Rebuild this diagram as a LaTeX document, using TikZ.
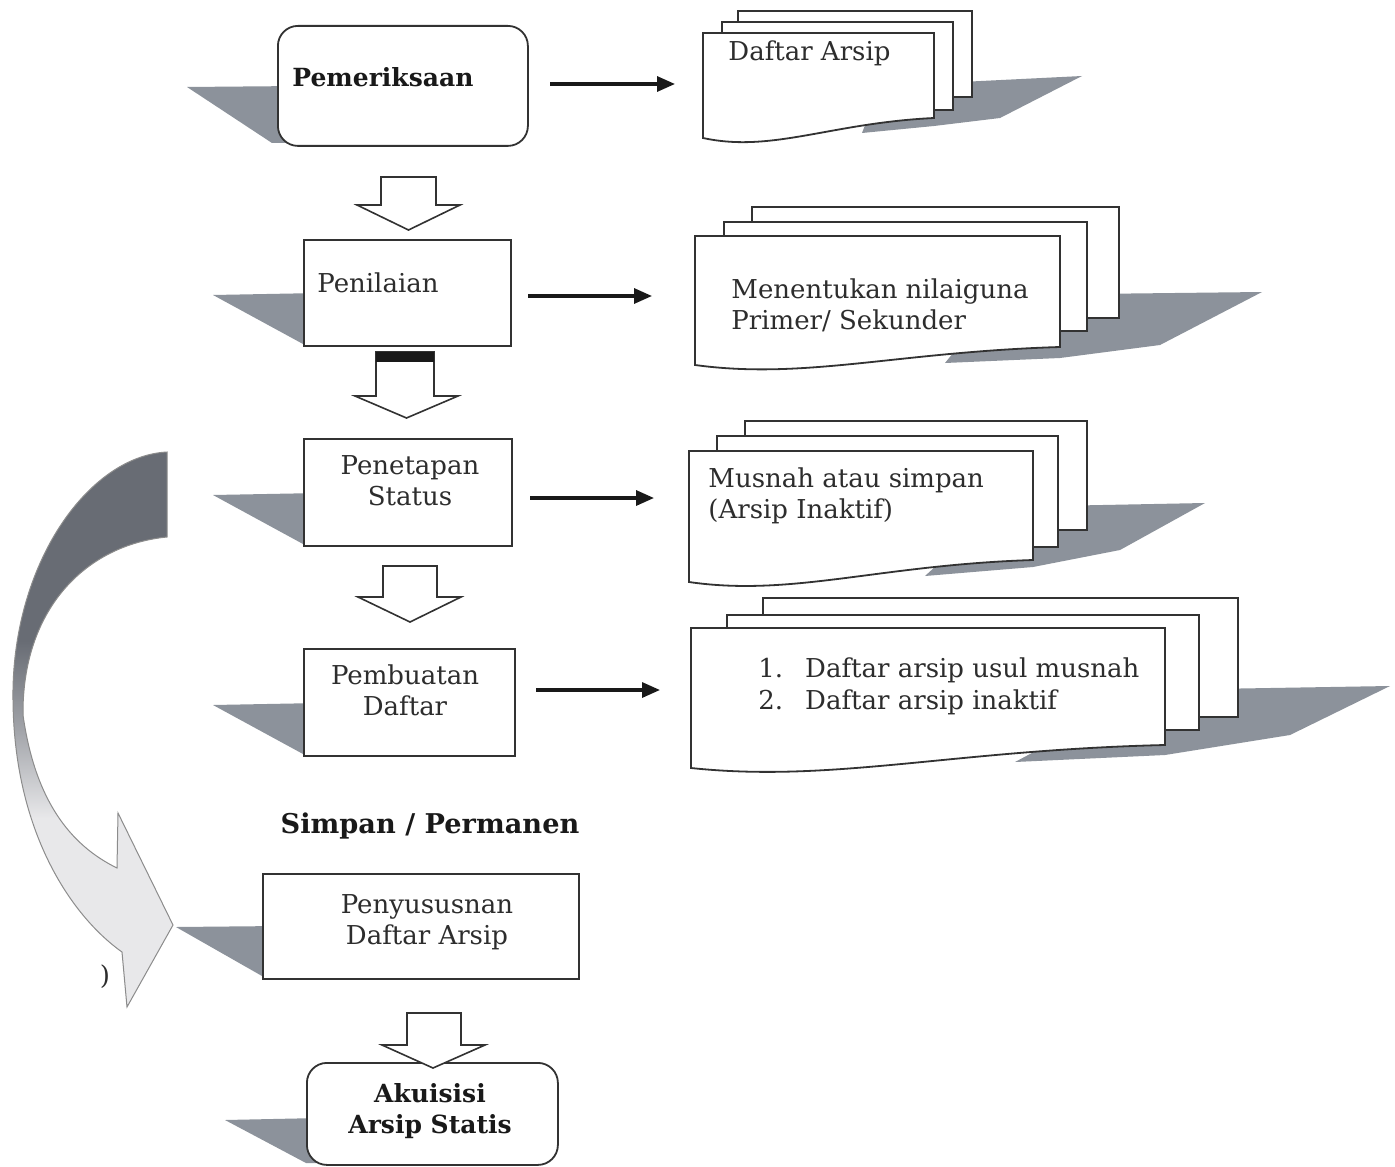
\documentclass[tikz,border=0pt]{standalone}
\usepackage{fontspec}
\setmainfont{DejaVu Serif}
\usetikzlibrary{arrows.meta}
\definecolor{shad}{RGB}{140,146,155}
\definecolor{ln}{RGB}{50,50,50}
\definecolor{txtc}{RGB}{45,45,45}
\definecolor{arrdark}{RGB}{104,108,116}
\definecolor{arrlight}{RGB}{232,232,234}
\pgfdeclareverticalshading{arrshade}{100bp}{color(0bp)=(arrlight); color(42bp)=(arrlight); color(50bp)=(arrdark!55!arrlight); color(58bp)=(arrdark); color(100bp)=(arrdark)}
\tikzset{
  stepbox/.style={draw=ln, line width=0.9pt, fill=white, inner sep=0pt, anchor=north west},
  shadowfill/.style={fill=shad, draw=none},
  page/.style={draw=ln, line width=0.9pt, fill=white},
  flowarrow/.style={line width=1.6pt, draw=black!90, -{Triangle[length=9pt,width=7.5pt]}},
  hollowarrow/.style={draw=ln, line width=0.8pt, fill=white, line join=miter},
  txt/.style={font=\fontsize{13}{15.5}\selectfont, text=txtc, inner sep=0pt},
  btxt/.style={font=\fontsize{12.5}{15.5}\selectfont\bfseries, text=black!90, inner sep=0pt},
}
\begin{document}
\begin{tikzpicture}[x=0.5pt,y=-0.5pt]
\fill[white] (0,0) rectangle (1395,1166);
\useasboundingbox (0,0) rectangle (1395,1166);

% ---- left box shadows
\fill[shadowfill] (187,87) -- (300,86) -- (300,143) -- (272,143) -- cycle;
\fill[shadowfill] (213,295) -- (320,293) -- (320,344) -- (303,344) -- cycle;
\fill[shadowfill] (213,495) -- (320,493) -- (320,544) -- (303,544) -- cycle;
\fill[shadowfill] (213,705) -- (320,703) -- (320,754) -- (303,754) -- cycle;
\fill[shadowfill] (176,927) -- (280,926) -- (280,976) -- (262,976) -- cycle;
\fill[shadowfill] (225,1120) -- (320,1118) -- (320,1163) -- (306,1163) -- cycle;

% ---- process boxes
\node[stepbox, rounded corners=10pt, minimum width=125pt, minimum height=60pt] (b1) at (277,25) {};
\node[stepbox, minimum width=103.5pt, minimum height=53pt] (b2) at (303,239) {};
\node[stepbox, minimum width=104pt, minimum height=53.5pt] (b3) at (303,438) {};
\node[stepbox, minimum width=105.5pt, minimum height=53.5pt] (b4) at (303,648) {};
\node[stepbox, minimum width=158pt, minimum height=52.5pt] (b5) at (262,873) {};
\node[stepbox, rounded corners=10pt, minimum width=125.5pt, minimum height=51pt] (b6) at (306,1062) {};

% ---- box texts
\node[btxt, anchor=west] (t1) at (292,77) {Pemeriksaan};
\node[txt, anchor=west] (t2) at (317,283) {Penilaian};
\node[txt, align=center] (t3) at (410,481) {Penetapan\\Status};
\node[txt, align=center] (t4) at (405,690) {Pembuatan\\Daftar};
\node[txt, align=center] (t5) at (427,922) {Penyususnan\\Daftar Arsip};
\node[btxt, align=center] (t6) at (430,1111) {Akuisisi\\Arsip Statis};
\node[btxt, font=\fontsize{13.6}{16}\selectfont\bfseries] (tsp) at (430,826) {Simpan / Permanen};

% ---- hollow down arrows
\draw[hollowarrow] (381,177) -- (436,177) -- (436,205) -- (460,205) -- (408.5,230) -- (357,205) -- (381,205) -- cycle;
\draw[hollowarrow] (376,352) -- (434,352) -- (434,396) -- (458,396) -- (406.5,418) -- (355,396) -- (376,396) -- cycle;
\fill[black!90] (376,352) rectangle (434,362);
\draw[hollowarrow] (383,566) -- (437,566) -- (437,597) -- (461,597) -- (410,622) -- (358,597) -- (383,597) -- cycle;
\draw[hollowarrow] (407,1013) -- (461,1013) -- (461,1045) -- (485,1045) -- (433,1068) -- (382,1045) -- (407,1045) -- cycle;

% ---- document stack 1
\fill[shadowfill] (880,86) -- (1082,76) -- (1000,118) -- (934,126) -- (862,133) -- cycle;
\draw[page] (738,11) rectangle (972,97);
\draw[page] (722,22) rectangle (953,110);
\draw[page] (703,33) -- (934,33) -- (934,118) .. controls (830,123) and (772,153) .. (703,138) -- cycle;
\node[txt, anchor=west] (d1) at (728,53) {Daftar Arsip};

% ---- document stack 2
\fill[shadowfill] (1000,295) -- (1262,292) -- (1160,345) -- (1060,358) -- (945,363) -- cycle;
\draw[page] (752,207) rectangle (1119,318);
\draw[page] (724,222) rectangle (1087,331);
\draw[page] (695,236) -- (1060,236) -- (1060,347) .. controls (896,352) and (805,380) .. (695,365) -- cycle;
\node[txt, anchor=west, align=left] (d2) at (731,305) {Menentukan nilaiguna\\Primer/ Sekunder};

% ---- document stack 3
\fill[shadowfill] (1000,507) -- (1205,503) -- (1120,550) -- (1033,567) -- (925,576) -- cycle;
\draw[page] (745,421) rectangle (1087,530);
\draw[page] (717,436) rectangle (1058,547);
\draw[page] (689,451) -- (1033,451) -- (1033,560) .. controls (878,565) and (792,597) .. (689,582) -- cycle;
\node[txt, anchor=west, align=left] (d3) at (708,496) {Musnah atau simpan\\(Arsip Inaktif)};

% ---- document stack 4
\fill[shadowfill] (1150,690) -- (1390,686) -- (1290,735) -- (1165,755) -- (1015,762) -- cycle;
\draw[page] (763,598) rectangle (1238,717);
\draw[page] (727,615) rectangle (1199,730);
\draw[page] (691,628) -- (1165,628) -- (1165,745) .. controls (952,750) and (833,783) .. (691,768) -- cycle;
\node[txt, anchor=west, align=left, font=\fontsize{13}{16}\selectfont] (d4) at (758,686) {1.\hspace{11pt}Daftar arsip usul musnah\\2.\hspace{11pt}Daftar arsip inaktif};

% ---- horizontal connectors
\coordinate (a1s) at (550,84);  \coordinate (a1e) at (675,84);
\coordinate (a2s) at (528,296); \coordinate (a2e) at (652,296);
\coordinate (a3s) at (530,498); \coordinate (a3e) at (654,498);
\coordinate (a4s) at (536,690); \coordinate (a4e) at (660,690);
\draw[flowarrow] (a1s) -- (a1e);
\draw[flowarrow] (a2s) -- (a2e);
\draw[flowarrow] (a3s) -- (a3e);
\draw[flowarrow] (a4s) -- (a4e);

% ---- big curved arrow
\path[shading=arrshade, draw=black!45, line width=0.5pt]
  (167,452) .. controls (88,456) and (11,565) .. (13,700)
  .. controls (14,830) and (70,915) .. (122,952)
  -- (127,1007) -- (173,925) -- (118,813) -- (117,868)
  .. controls (70,845) and (35,800) .. (23,715)
  .. controls (22,610) and (85,545) .. (167,537) -- cycle;
\node[txt, font=\fontsize{13}{14}\selectfont] (paren) at (105,977) {)};
\end{tikzpicture}
\end{document}
